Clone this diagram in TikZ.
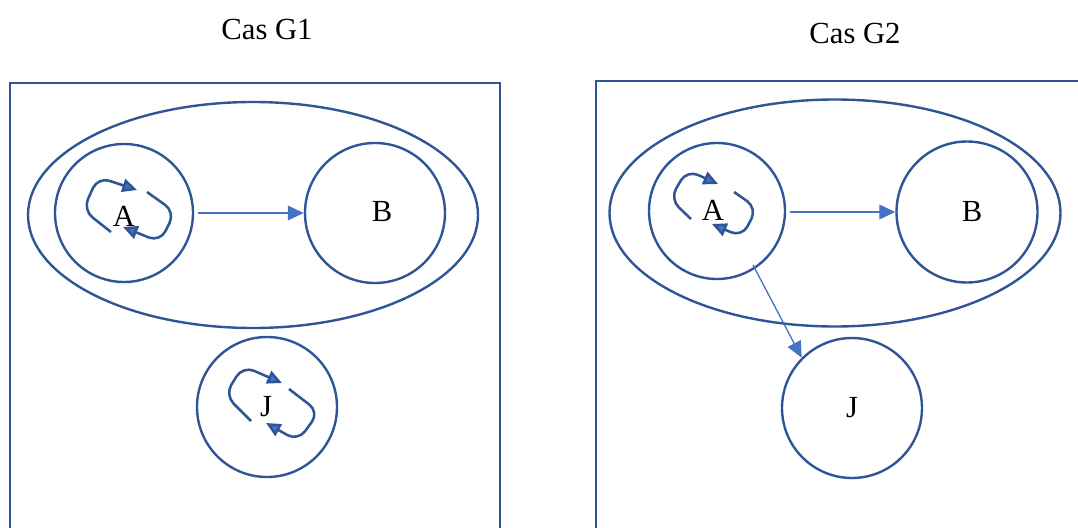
\documentclass[tikz,border=0pt]{standalone}
\usepackage{fontspec}
\setmainfont{Liberation Serif}
\usetikzlibrary{arrows.meta,shapes.geometric}
\definecolor{dkblue}{HTML}{2F5597}
\definecolor{ltblue}{HTML}{4472C4}
\tikzset{
  frameline/.style={draw=dkblue, line width=1.8pt},
  circ/.style={circle, draw=dkblue, line width=1.8pt, minimum size=#1, inner sep=0pt},
  lbl/.style={font=\fontsize{23}{26}\selectfont},
  conn/.style={draw=ltblue, line width=1pt, -{Triangle[length=12pt,width=11pt]}},
  looparr/.style={draw=dkblue, line width=1.9pt, rounded corners=9pt, -{Triangle[length=11pt,width=10pt,fill=ltblue]}},
}
\begin{document}
\begin{tikzpicture}[x=0.75pt,y=-0.75pt]
\useasboundingbox (0,0) rectangle (1078,528);
\clip (0,0) rectangle (1078,528);
% titles
\node[lbl] (t1) at (267,29) {Cas G1};
\node[lbl] (t2) at (855,33) {Cas G2};
% frames
\draw[frameline] (10,83) rectangle (500,545);
\draw[frameline] (596,81) rectangle (1095,545);
% left
\node[frameline, ellipse, minimum width=450*0.75pt, minimum height=226*0.75pt, inner sep=0pt] (E1) at (253,215) {};
\node[circ=138*0.75pt] (A1) at (124,213) {};
\node[circ=140*0.75pt] (B1) at (375,213) {};
\node[circ=140*0.75pt] (J1) at (267,407) {};
\node[lbl] (a1) at (124,216) {A};
\node[lbl] (b1) at (382,212) {B};
\node[lbl] (j1) at (266,407) {J};
\coordinate (A1s) at (198,213);
\draw[conn] (A1s) -- (B1.west);
\draw[looparr] (111,232) -- (83,210) -- (98,177) -- (137,190);
\draw[looparr] (147,192) -- (175,212) -- (160,242) -- (123,227);
\draw[looparr] (251,421) -- (225,395) -- (243,366) -- (282,383);
\draw[looparr] (289,389) -- (319,412) -- (298,441) -- (266,423);
% right
\node[frameline, ellipse, minimum width=451*0.75pt, minimum height=227*0.75pt, inner sep=0pt] (E2) at (835,213) {};
\node[circ=136*0.75pt] (A2) at (717,211) {};
\node[circ=141*0.75pt] (B2) at (967,212) {};
\node[circ=140*0.75pt] (J2) at (852,408) {};
\node[lbl] (a2) at (713,210) {A};
\node[lbl] (b2) at (972,212) {B};
\node[lbl] (j2) at (852,408) {J};
\coordinate (A2s) at (790,212);
\draw[conn] (A2s) -- (B2.west);
\coordinate (A2j) at (753,265);
\draw[conn] (A2j) -- (J2.north west);
\draw[looparr] (691,219) -- (670,199) -- (687,170) -- (718,184);
\draw[looparr] (734,192) -- (757,208) -- (742,237) -- (712,224);
\end{tikzpicture}
\end{document}
